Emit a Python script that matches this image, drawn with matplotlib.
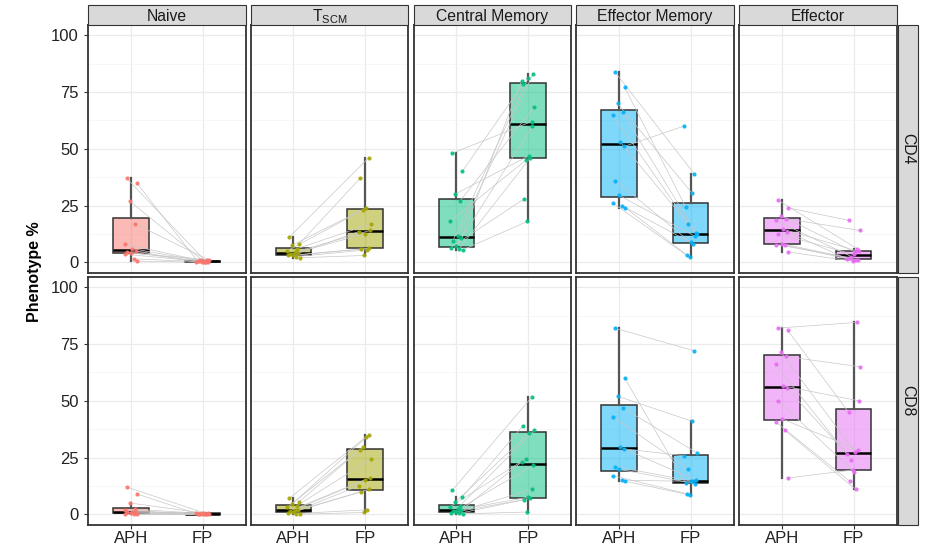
import matplotlib
matplotlib.use("Agg")
import matplotlib.pyplot as plt
from matplotlib.patches import Rectangle
import numpy as np

plt.rcParams["font.family"] = ["Liberation Sans", "DejaVu Sans"]

# ---- data (one value per subject, APH and FP paired by index) ----
cell_types = ["Naive", "$\\mathregular{T_{SCM}}$", "Central Memory", "Effector Memory", "Effector"]
markers = ["CD4", "CD8"]
groups = ["APH", "FP"]

naive_cd4_aph = [37, 35, 27, 17, 8, 6, 5, 4.5, 4, 3.5, 1.5, 0.5]
naive_cd4_fp = [0.2, 0.5, 0.3, 1.0, 0.8, 0.1, 0.0, 0.4, 1.2, 0.6, 0.2, 0.0]
tscm_cd4_aph = [11, 8, 7.5, 6, 5, 4.5, 4, 3.5, 3, 3, 2.5, 2]
tscm_cd4_fp = [46, 37, 24, 17, 23, 14, 13.5, 12.5, 6.2, 5.8, 5.5, 3]
cm_cd4_aph = [48, 40, 30, 27, 18, 11.5, 10.5, 9.5, 7, 6.5, 6, 5.5]
cm_cd4_fp = [62, 78.5, 47, 68.5, 45, 83, 80, 81, 60, 28, 46, 18]
em_cd4_aph = [84, 77, 70, 66, 65, 53, 51, 36, 29.5, 26, 25, 24]
em_cd4_fp = [39, 24.5, 30.5, 12.3, 17, 13, 60, 8.8, 11.5, 3, 8.2, 2.2]
eff_cd4_aph = [27.5, 24, 20.5, 19.2, 18.5, 14.5, 13.5, 12.5, 8.2, 7.8, 7.5, 4.5]
eff_cd4_fp = [6, 18.5, 4.5, 14, 2.5, 4.8, 1.5, 3.5, 1.0, 2, 0.8, 0.5]

naive_cd8_aph = [12, 9, 5, 2.2, 1.8, 1.2, 1, 0.8, 0.5, 0.3, 0.2, 0]
naive_cd8_fp = [0.3, 0.1, 0.5, 0.2, 0.0, 0.4, 0.6, 0.1, 0.0, 0.3, 0.2, 0.5]
tscm_cd8_aph = [7, 5.5, 4.5, 3.8, 3, 2, 1.8, 1.5, 1, 0.5, 0.3, 0]
tscm_cd8_fp = [35, 28.5, 34, 24.5, 29.5, 16, 12.5, 15.2, 11, 10, 2, 0.8]
cm_cd8_aph = [10.5, 7.5, 5.2, 3.8, 3.3, 2.2, 1.8, 1.5, 1, 0.6, 0.4, 0.2]
cm_cd8_fp = [51.5, 39, 36, 37, 24.5, 21.5, 23, 7.5, 11, 6.5, 7, 1]
em_cd8_aph = [82, 60, 52, 47, 43, 29.6, 28.8, 21, 19.8, 17, 15, 14.5]
em_cd8_fp = [72, 13.8, 41, 27, 20, 15, 25.8, 14.7, 13.5, 9, 14.5, 8.5]
eff_cd8_aph = [82, 81, 71.5, 69.5, 66, 56.5, 55.5, 50, 42, 40.5, 37, 16]
eff_cd8_fp = [84.5, 45, 27.5, 65, 24, 50, 26.5, 18.8, 28.5, 14.5, 11, 19.5]

panel_data = {
    ("CD4", 0): (naive_cd4_aph, naive_cd4_fp),
    ("CD4", 1): (tscm_cd4_aph, tscm_cd4_fp),
    ("CD4", 2): (cm_cd4_aph, cm_cd4_fp),
    ("CD4", 3): (em_cd4_aph, em_cd4_fp),
    ("CD4", 4): (eff_cd4_aph, eff_cd4_fp),
    ("CD8", 0): (naive_cd8_aph, naive_cd8_fp),
    ("CD8", 1): (tscm_cd8_aph, tscm_cd8_fp),
    ("CD8", 2): (cm_cd8_aph, cm_cd8_fp),
    ("CD8", 3): (em_cd8_aph, em_cd8_fp),
    ("CD8", 4): (eff_cd8_aph, eff_cd8_fp),
}

# ggplot default hue palette
colors = ["#F8766D", "#A3A500", "#00BF7D", "#00B0F6", "#E76BF3"]
# fixed horizontal jitter (ggplot style)
jit_a = [-0.06, 0.08, -0.02, 0.05, -0.09, 0.02, 0.07, -0.05, 0.0, -0.08, 0.04, 0.09]
jit_b = [0.05, -0.07, 0.02, 0.09, -0.03, 0.07, -0.09, 0.0, 0.06, -0.05, 0.03, -0.01]

W, H = 925, 545
fig = plt.figure(figsize=(9.25, 5.45), dpi=100)
fig.patch.set_facecolor("white")

col_left = [88, 250.5, 413.5, 576, 739]
col_w = 157.5
row_top = [25, 277]
row_h = 247.5
dark = "#333333"


def fx(px):
    return px / W


def fy(py):
    return 1 - py / H


for r, mk in enumerate(markers):
    for c in range(5):
        aph, fp = panel_data[(mk, c)]
        col = colors[c]
        ax = fig.add_axes([fx(col_left[c]), fy(row_top[r] + row_h), col_w / W, row_h / H])

        bp = ax.boxplot([aph, fp], positions=[1, 2], widths=0.5, patch_artist=True,
                        showfliers=False, whis=1.5, zorder=2, manage_ticks=False,
                        boxprops=dict(facecolor=col, edgecolor=dark, lw=1.1),
                        medianprops=dict(color="black", lw=1.8),
                        whiskerprops=dict(color="#555555", lw=1.6),
                        capprops=dict(lw=0))
        for b in bp["boxes"]:
            b.set_facecolor(matplotlib.colors.to_rgba(col, 0.5))

        xa = 1 + np.array(jit_a)
        xb = 2 + np.array(jit_b)
        for i in range(len(aph)):
            ax.plot([xa[i], xb[i]], [aph[i], fp[i]], color="#c8c8c8", lw=0.5, zorder=3)
        ax.plot(xa, aph, "o", color=col, ms=3, mew=0, alpha=0.9, zorder=4)
        ax.plot(xb, fp, "o", color=col, ms=3, mew=0, alpha=0.9, zorder=4)

        ax.set_xlim(0.4, 2.6)
        ax.set_ylim(-4.5, 104.5)
        ax.set_yticks([0, 25, 50, 75, 100])
        ax.set_yticks([12.5, 37.5, 62.5, 87.5], minor=True)
        ax.set_xticks([1, 2])
        ax.grid(True, which="major", color="#ebebeb", lw=0.9, zorder=0)
        ax.grid(True, which="minor", axis="y", color="#f4f4f4", lw=0.5, zorder=0)
        ax.set_axisbelow(True)
        for s in ax.spines.values():
            s.set_color(dark)
            s.set_linewidth(1.3)

        ax.tick_params(axis="both", which="both", color=dark, length=3, width=0.8,
                       labelsize=12, labelcolor="#222222")
        ax.tick_params(axis="both", which="minor", length=0)
        if c == 0:
            ax.set_yticklabels(["0", "25", "50", "75", "100"])
        else:
            ax.tick_params(axis="y", length=0, labelleft=False)
        if r == 1:
            ax.set_xticklabels(groups)
            ax.tick_params(axis="x", pad=2)
        else:
            ax.tick_params(axis="x", length=0, labelbottom=False)

        # top strip
        if r == 0:
            fig.patches.append(Rectangle((fx(col_left[c]), fy(25)), col_w / W, 20 / H,
                                         transform=fig.transFigure, facecolor="#d9d9d9",
                                         edgecolor=dark, lw=0.8, zorder=1))
            fig.text(fx(col_left[c] + col_w / 2), fy(16.5), cell_types[c], ha="center",
                     va="center", fontsize=11.3, color="#1a1a1a")
    # right strip
    fig.patches.append(Rectangle((fx(898), fy(row_top[r] + row_h)), 20 / W, row_h / H,
                                 transform=fig.transFigure, facecolor="#d9d9d9",
                                 edgecolor=dark, lw=0.8, zorder=1))
    fig.text(fx(908), fy(row_top[r] + row_h / 2), mk, rotation=-90, ha="center",
             va="center", fontsize=11.3, color="#1a1a1a")

fig.text(fx(34), fy(272), "Phenotype %", rotation=90, ha="center", va="center",
         fontsize=11.5, fontweight="bold", color="black")

fig.savefig("out.png", dpi=100)
